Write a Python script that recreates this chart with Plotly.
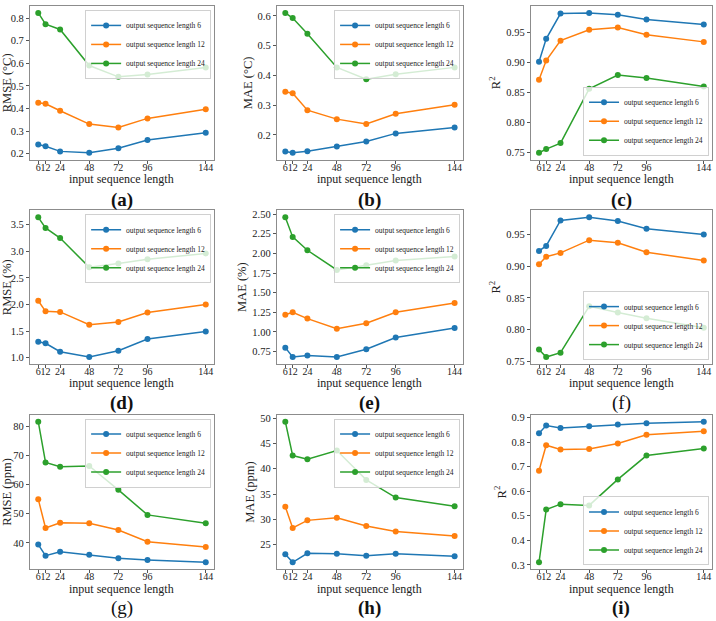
import plotly.graph_objects as go

W, H = 716, 621

x_len = [6, 12, 24, 48, 72, 96, 144]
series_names = ["output sequence length 6", "output sequence length 12", "output sequence length 24"]
colors = ["#1f77b4", "#ff7f0e", "#2ca02c"]

# (a) RMSE (°C)
a_6 = [0.240, 0.233, 0.210, 0.204, 0.224, 0.260, 0.293]
a_12 = [0.425, 0.421, 0.390, 0.331, 0.316, 0.356, 0.397]
a_24 = [0.823, 0.773, 0.750, 0.590, 0.540, 0.550, 0.581]
# (b) MAE (°C)
b_6 = [0.144, 0.140, 0.145, 0.161, 0.178, 0.205, 0.225]
b_12 = [0.345, 0.340, 0.283, 0.253, 0.237, 0.271, 0.301]
b_24 = [0.610, 0.593, 0.540, 0.427, 0.387, 0.404, 0.427]
# (c) R2
c_6 = [0.901, 0.939, 0.981, 0.982, 0.979, 0.971, 0.963]
c_12 = [0.871, 0.903, 0.936, 0.954, 0.958, 0.946, 0.934]
c_24 = [0.750, 0.756, 0.766, 0.856, 0.879, 0.874, 0.860]
# (d) RMSE (%)
d_6 = [1.30, 1.27, 1.11, 1.01, 1.13, 1.35, 1.49]
d_12 = [2.07, 1.87, 1.86, 1.62, 1.67, 1.85, 2.00]
d_24 = [3.64, 3.44, 3.25, 2.70, 2.77, 2.85, 2.96]
# (e) MAE (%)
e_6 = [0.80, 0.68, 0.70, 0.68, 0.78, 0.93, 1.05]
e_12 = [1.22, 1.25, 1.17, 1.04, 1.11, 1.25, 1.37]
e_24 = [2.46, 2.21, 2.04, 1.79, 1.85, 1.91, 1.96]
# (f) R2
f_6 = [0.924, 0.932, 0.972, 0.977, 0.971, 0.959, 0.950]
f_12 = [0.903, 0.915, 0.921, 0.941, 0.937, 0.922, 0.909]
f_24 = [0.769, 0.757, 0.764, 0.837, 0.827, 0.818, 0.803]
# (g) RMSE (ppm)
g_6 = [39.4, 35.6, 36.9, 35.9, 34.7, 34.1, 33.3]
g_12 = [55.0, 45.1, 46.9, 46.7, 44.4, 40.4, 38.6]
g_24 = [81.6, 67.6, 66.1, 66.4, 58.2, 49.6, 46.7]
# (h) MAE (ppm)
h_6 = [23.1, 21.5, 23.3, 23.2, 22.8, 23.2, 22.7]
h_12 = [32.5, 28.3, 29.8, 30.3, 28.7, 27.6, 26.7]
h_24 = [49.3, 42.6, 41.9, 43.6, 37.8, 34.3, 32.6]
# (i) R2
i_6 = [0.836, 0.867, 0.857, 0.864, 0.872, 0.877, 0.883]
i_12 = [0.683, 0.787, 0.770, 0.772, 0.794, 0.830, 0.844]
i_24 = [0.310, 0.525, 0.547, 0.542, 0.648, 0.745, 0.774]

panel_labels = ["(a)", "(b)", "(c)", "(d)", "(e)", "(f)", "(g)", "(h)", "(i)"]
y_titles = ["RMSE (°C)", "MAE (°C)", "R<sup>2</sup>",
            "RMSE (%)", "MAE (%)", "R<sup>2</sup>",
            "RMSE (ppm)", "MAE (ppm)", "R<sup>2</sup>"]
x_title = "input sequence length"

panels = [
    (a_6, a_12, a_24, [0.2, 0.3, 0.4, 0.5, 0.6, 0.7, 0.8], ".1f", "top"),
    (b_6, b_12, b_24, [0.2, 0.3, 0.4, 0.5, 0.6], ".1f", "top"),
    (c_6, c_12, c_24, [0.75, 0.80, 0.85, 0.90, 0.95], ".2f", "bottom"),
    (d_6, d_12, d_24, [1.0, 1.5, 2.0, 2.5, 3.0, 3.5], ".1f", "top"),
    (e_6, e_12, e_24, [0.75, 1.00, 1.25, 1.50, 1.75, 2.00, 2.25, 2.50], ".2f", "top"),
    (f_6, f_12, f_24, [0.75, 0.80, 0.85, 0.90, 0.95], ".2f", "bottom"),
    (g_6, g_12, g_24, [40, 50, 60, 70, 80], "d", "top"),
    (h_6, h_12, h_24, [25, 30, 35, 40, 45, 50], "d", "top"),
    (i_6, i_12, i_24, [0.3, 0.4, 0.5, 0.6, 0.7, 0.8, 0.9], ".1f", "bottom"),
]

col_px = [(27, 212), (275, 462), (530, 712)]
row_px = [(4, 159), (210, 365), (416, 572)]
label_y = [200, 404, 611]
bold = [True, True, True, True, True, False, False, True, True]

FONT = "Liberation Serif"
fig = go.Figure()
layout = dict(
    width=W, height=H, margin=dict(l=0, r=0, t=0, b=0),
    paper_bgcolor="white", plot_bgcolor="white",
    font=dict(family=FONT, color="#222"),
    showlegend=True, annotations=[],
)

for k, (s6, s12, s24, yt, fmt, lpos) in enumerate(panels):
    r, c = divmod(k, 3)
    sfx = "" if k == 0 else str(k + 1)
    leg = "legend" if k == 0 else "legend" + str(k + 1)
    for j, ys in enumerate([s6, s12, s24]):
        fig.add_trace(go.Scatter(
            x=x_len, y=ys, mode="lines+markers", name=series_names[j],
            line=dict(color=colors[j], width=1.5),
            marker=dict(color=colors[j], size=6),
            xaxis="x" + sfx, yaxis="y" + sfx, legend=leg,
        ))
    allv = s6 + s12 + s24
    lo, hi = min(allv), max(allv)
    pad = (hi - lo) * 0.05
    x0, x1 = col_px[c]
    y0, y1 = row_px[r]
    axis_common = dict(showline=True, mirror=True, linecolor="#8c8c8c", linewidth=1,
                       ticks="outside", ticklen=3, tickcolor="#555", showgrid=False,
                       zeroline=False)
    layout["xaxis" + sfx] = dict(
        domain=[x0 / W, x1 / W], anchor="y" + sfx, range=[-0.9, 150.9],
        tickvals=x_len, ticktext=[str(v) for v in x_len], tickangle=0,
        ticklabelstandoff=-5, tickfont=dict(family=FONT, size=10, color="#222"),
        **axis_common)
    layout["yaxis" + sfx] = dict(
        domain=[1 - y1 / H, 1 - y0 / H], anchor="x" + sfx, range=[lo - pad, hi + pad],
        tickvals=yt, tickformat=fmt, tickfont=dict(family=FONT, size=10.5, color="#222"),
        title=dict(text=y_titles[k], font=dict(family=FONT, size=12.5, color="#222"), standoff=2),
        **axis_common)
    if lpos == "top":
        lx, ly, ya, xa = (x1 - 3) / W, 1 - (y0 + 4) / H, "top", "right"
    else:
        lx, ly, ya, xa = (x1 - 3) / W, 1 - (y1 - 4) / H, "bottom", "right"
    layout[leg] = dict(
        x=lx, y=ly, xanchor=xa, yanchor=ya, xref="paper", yref="paper",
        bgcolor="rgba(255,255,255,0.8)", bordercolor="#d0d0d0", borderwidth=1,
        font=dict(family=FONT, size=7.5, color="#222"),
        itemwidth=30, tracegroupgap=0,
    )
    layout["annotations"].append(dict(
        text=x_title, x=(x0 + x1) / 2 / W, y=1 - (y1 + 19.5) / H,
        xref="paper", yref="paper", xanchor="center", yanchor="middle",
        showarrow=False, font=dict(family=FONT, size=12, color="#222"),
    ))
    txt = panel_labels[k]
    layout["annotations"].append(dict(
        text=("<b>%s</b>" % txt) if bold[k] else txt,
        x=(x0 + x1) / 2 / W, y=1 - label_y[r] / H, xref="paper", yref="paper",
        xanchor="center", yanchor="middle", showarrow=False,
        font=dict(family=FONT, size=19, color="#111"),
    ))

fig.update_layout(**layout)
fig.write_html("out.html")
